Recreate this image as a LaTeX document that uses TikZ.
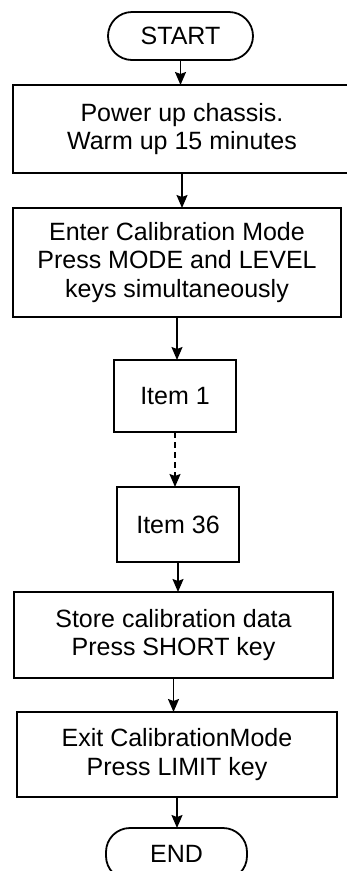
\documentclass[tikz,border=0pt]{standalone}
\usepackage{fontspec}
\setmainfont{Liberation Sans}
\usetikzlibrary{arrows.meta,positioning}

\begin{document}
\begin{tikzpicture}[
  node distance=30pt,
  term/.style={draw, line width=1.8pt, outer sep=0pt, rounded corners=24pt, minimum width=145pt,
               minimum height=48pt, font=\fontsize{25}{28.5}\selectfont},
  stepbox/.style={draw, line width=2pt, outer sep=0pt, align=center, inner sep=4pt,
                  font=\fontsize{25}{28.5}\selectfont},
  arr/.style={-{Stealth[length=13pt, width=11pt, inset=2pt]}, line width=1.4pt}
]
\clip (0,0) rectangle (347pt,-871pt);
\node[term] (start) at (180.5pt,-36pt) {START};
\node[stepbox, minimum width=338pt, minimum height=88pt, below=25pt of start, xshift=1.5pt] (power)
     {Power up chassis.\\Warm up 15 minutes};
\node[stepbox, minimum width=328pt, minimum height=109pt, below=35pt of power, xshift=-5pt] (enter)
     {Enter Calibration Mode\\Press MODE and LEVEL\\keys simultaneously};
\node[stepbox, minimum width=122pt, minimum height=72pt, below=43pt of enter, xshift=-2pt] (item1) {Item 1};
\node[stepbox, minimum width=122pt, minimum height=75pt, below=55pt of item1, xshift=3pt] (item36) {Item 36};
\node[stepbox, minimum width=319pt, minimum height=86pt, below=30pt of item36, xshift=-4.5pt] (store)
     {Store calibration data\\Press SHORT key};
\node[stepbox, minimum width=320pt, minimum height=85pt, below=34pt of store, xshift=3.5pt] (exitm)
     {Exit CalibrationMode\\Press LIMIT key};
\node[term, minimum width=141pt, minimum height=52pt, below=31pt of exitm, xshift=-0.5pt] (end) {END};
% connectors
\draw[arr] (start.south) -- (start.south |- power.north);
\draw[arr] (power.south) -- (power.south |- enter.north);
\draw[arr] (enter.south) -- (enter.south |- item1.north);
\draw[arr, dashed, dash pattern=on 6pt off 4pt] (item1.south) -- (item1.south |- item36.north);
\draw[arr] (item36.south) -- (item36.south |- store.north);
\draw[arr] (store.south) -- (store.south |- exitm.north);
\draw[arr] (exitm.south) -- (exitm.south |- end.north);
\end{tikzpicture}
\end{document}
